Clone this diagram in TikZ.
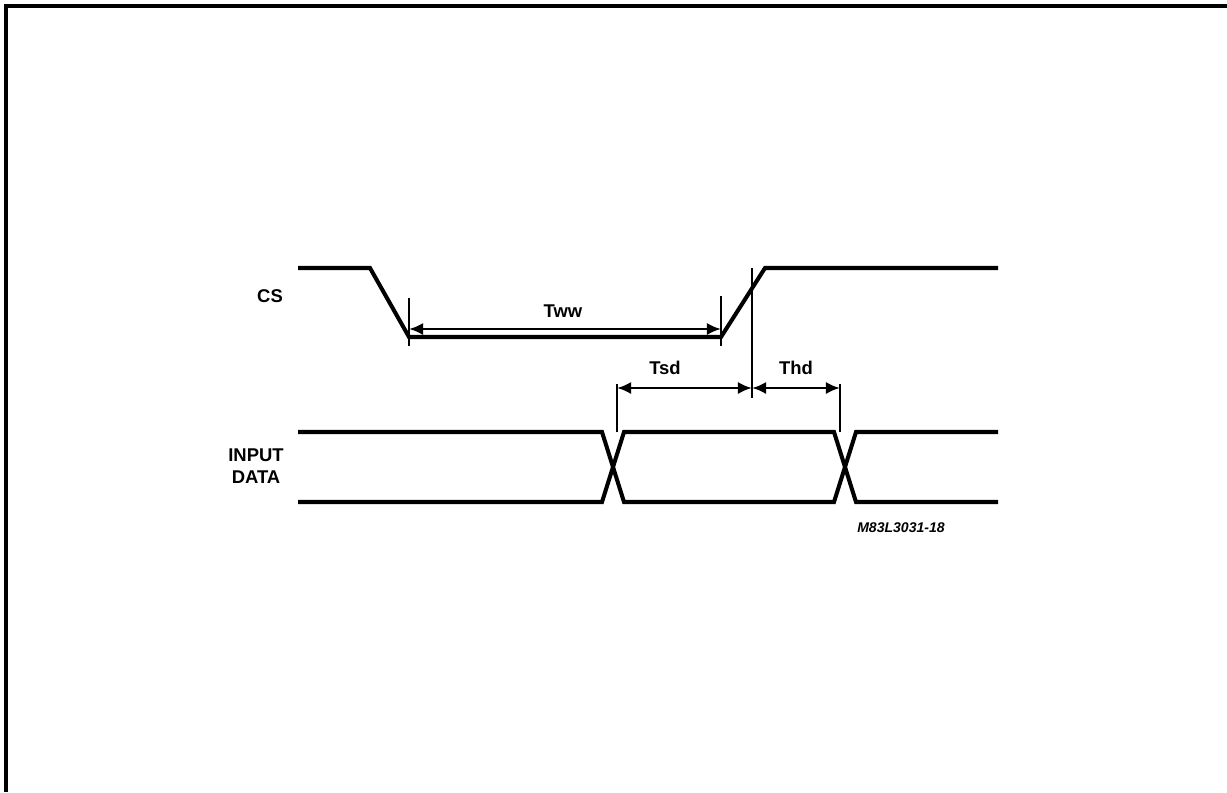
\documentclass[tikz,border=0pt]{standalone}
\usepackage{fontspec}
\setsansfont{Liberation Sans}
\usetikzlibrary{arrows.meta}

\begin{document}
\begin{tikzpicture}[x=0.02cm,y=-0.02cm,>={Latex[length=8pt,width=7pt]},
                    line join=miter]
  \tikzstyle{signal}=[line width=2.3pt]
  \tikzstyle{cota}=[line width=1.6pt]
  \tikzstyle{medida}=[cota,<->]
  \tikzstyle{texto}=[font=\sffamily\bfseries\fontsize{10.5}{12.5}\selectfont,
                     inner sep=0pt]
  \tikzstyle{marca}=[font=\sffamily\bfseries\itshape\fontsize{8}{10}\selectfont,
                     inner sep=0pt]
  \useasboundingbox (0,0) rectangle (1227,792);
  %Marco
  \coordinate (m1) at (6,792);
  \coordinate (m2) at (6,6);
  \coordinate (m3) at (1227,6);
  \draw[line width=2pt] (m1) -- (m2) -- (m3);
  %Etiquetas
  \node[texto] (cs) at (270,296) {CS};
  \node[texto,align=center] (din) at (256,466) {INPUT\\DATA};
  \node[texto] (tww) at (563,311) {Tww};
  \node[texto] (tsd) at (665,368) {Tsd};
  \node[texto] (thd) at (796,368) {Thd};
  \node[marca] (ref) at (901,528) {M83L3031-18};
  %Senal CS
  \coordinate (c1) at (298,268);
  \coordinate (c2) at (370,268);
  \coordinate (c3) at (409,337);
  \coordinate (c4) at (721,337);
  \coordinate (c5) at (765,268);
  \coordinate (c6) at (998,268);
  \draw[signal] (c1) -- (c2) -- (c3) -- (c4) -- (c5) -- (c6);
  %Senal datos
  \coordinate (a1) at (298,432);
  \coordinate (a2) at (602,432);
  \coordinate (a3) at (624,502);
  \coordinate (a4) at (834,502);
  \coordinate (a5) at (856,432);
  \coordinate (a6) at (998,432);
  \coordinate (b1) at (298,502);
  \coordinate (b2) at (602,502);
  \coordinate (b3) at (624,432);
  \coordinate (b4) at (834,432);
  \coordinate (b5) at (856,502);
  \coordinate (b6) at (998,502);
  \draw[signal] (a1) -- (a2) -- (a3) -- (a4) -- (a5) -- (a6);
  \draw[signal] (b1) -- (b2) -- (b3) -- (b4) -- (b5) -- (b6);
  %Lineas de referencia
  \coordinate (t1a) at (409,298);
  \coordinate (t1b) at (409,346);
  \coordinate (t2a) at (721,296);
  \coordinate (t2b) at (721,346);
  \coordinate (t3a) at (752,268);
  \coordinate (t3b) at (752,398);
  \coordinate (t4a) at (617,384);
  \coordinate (t4b) at (617,432);
  \coordinate (t5a) at (840,384);
  \coordinate (t5b) at (840,432);
  \draw[cota] (t1a) -- (t1b)
              (t2a) -- (t2b)
              (t3a) -- (t3b)
              (t4a) -- (t4b)
              (t5a) -- (t5b);
  %Cotas
  \coordinate (w1) at (409,329);
  \coordinate (w2) at (721,329);
  \coordinate (s1) at (617,388);
  \coordinate (s2) at (752,388);
  \coordinate (h2) at (840,388);
  \draw[medida] (w1) -- (w2);
  \draw[medida] (s1) -- (s2);
  \draw[medida] (s2) -- (h2);
\end{tikzpicture}
\end{document}
